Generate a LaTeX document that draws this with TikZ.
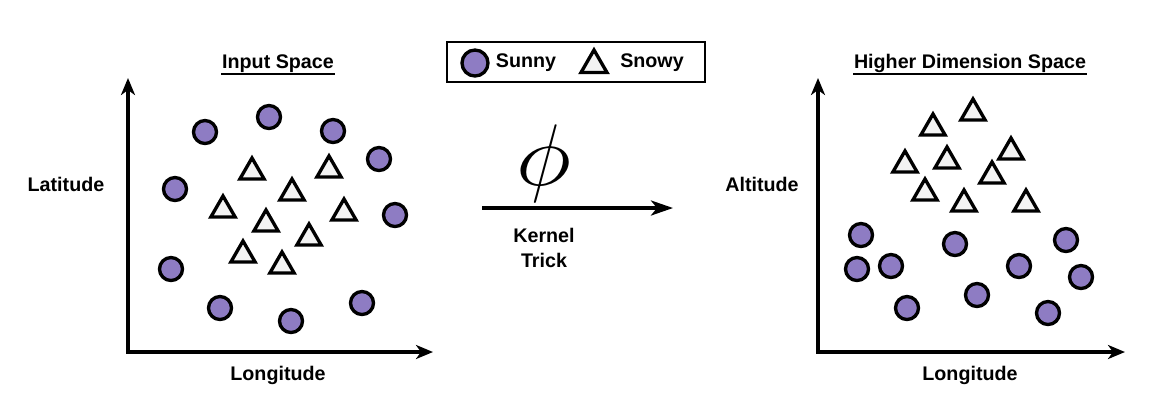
\documentclass[tikz,border=0pt]{standalone}
\usepackage{fontspec}
\setmainfont{Liberation Sans}
\usetikzlibrary{shapes.geometric,arrows.meta}
\definecolor{purp}{HTML}{8E7CC3}
\definecolor{trifill}{HTML}{F3F3F3}
\begin{document}
\begin{tikzpicture}[x=0.01cm,y=-0.01cm,
  sunny/.style={circle,draw,line width=0.95pt,fill=purp,minimum size=0.23cm,inner sep=0pt},
  snowy/.style={regular polygon,regular polygon sides=3,draw,line width=0.95pt,fill=trifill,minimum size=0.28cm,inner sep=0pt},
  lbl/.style={font=\fontsize{5.6}{7.1}\selectfont\bfseries,inner sep=0pt,align=center},
  title/.style={lbl,anchor=base},
  uline/.style={line width=0.55pt},
  axis/.style={line width=1pt,{Stealth[length=0.17cm,width=0.14cm,inset=0.05cm]}-{Stealth[length=0.17cm,width=0.14cm,inset=0.05cm]}},
  maparrow/.style={line width=1pt,-{Stealth[length=0.22cm,width=0.15cm,inset=0.06cm]}}]
\useasboundingbox (0,0) rectangle (1163,402);

% ---------- left panel ----------
\coordinate (ly) at (128,78);
\coordinate (lo) at (128,352);
\coordinate (lx) at (433,352);
\draw[axis] (ly) -- (lo) -- (lx);
\node[title] (ltitle) at (278,68) {Input Space};
\draw[uline] ([yshift=-0.3pt]ltitle.south west) -- ([yshift=-0.3pt]ltitle.south east);
\node[lbl] (llat) at (66,184) {Latitude};
\node[lbl] (llon) at (278,375) {Longitude};

\node[sunny] (ls1) at (205,132) {};
\node[sunny] (ls2) at (269,117) {};
\node[sunny] (ls3) at (333,131) {};
\node[sunny] (ls4) at (379,159) {};
\node[sunny] (ls5) at (175,189) {};
\node[sunny] (ls6) at (395,215) {};
\node[sunny] (ls7) at (171,269) {};
\node[sunny] (ls8) at (220,308) {};
\node[sunny] (ls9) at (291,321) {};
\node[sunny] (ls10) at (362,303) {};

\node[snowy] (lt1) at (252,172) {};
\node[snowy] (lt2) at (329,170) {};
\node[snowy] (lt3) at (292,193) {};
\node[snowy] (lt4) at (223,210) {};
\node[snowy] (lt5) at (344,213) {};
\node[snowy] (lt6) at (266,224) {};
\node[snowy] (lt7) at (309,238) {};
\node[snowy] (lt8) at (243,255) {};
\node[snowy] (lt9) at (282,266) {};

% ---------- legend ----------
\node[draw,line width=0.7pt,minimum width=2.58cm,minimum height=0.4cm,inner sep=0pt] (legend) at (576,62) {};
\node[sunny,minimum size=0.26cm] (legs) at (475,63) {};
\node[lbl] (legsl) at (526,63) {Sunny};
\node[snowy,minimum size=0.3cm] (legt) at (594,65) {};
\node[lbl] (legtl) at (652,63) {Snowy};

% ---------- mapping ----------
\coordinate (ma) at (482,208);
\coordinate (mb) at (673,208);
\draw[maparrow] (ma) -- (mb);
\node[inner sep=0pt,font=\fontsize{25}{30}\selectfont] (phi) at (544,164) {\scalebox{1.08}[1]{$\phi$}};
\node[lbl] (kt) at (544,248) {Kernel\\Trick};

% ---------- right panel ----------
\coordinate (ry) at (818,78);
\coordinate (ro) at (818,352);
\coordinate (rx) at (1125,352);
\draw[axis] (ry) -- (ro) -- (rx);
\node[title] (rtitle) at (970,68) {Higher Dimension Space};
\draw[uline] ([yshift=-0.3pt]rtitle.south west) -- ([yshift=-0.3pt]rtitle.south east);
\node[lbl] (ralt) at (762,184) {Altitude};
\node[lbl] (rlon) at (970,375) {Longitude};

\node[snowy] (rt1) at (973,113) {};
\node[snowy] (rt2) at (933,128) {};
\node[snowy] (rt3) at (1011,152) {};
\node[snowy] (rt4) at (905,165) {};
\node[snowy] (rt5) at (947,161) {};
\node[snowy] (rt6) at (992,176) {};
\node[snowy] (rt7) at (925,193) {};
\node[snowy] (rt8) at (964,204) {};
\node[snowy] (rt9) at (1026,204) {};

\node[sunny] (rs1) at (861,235) {};
\node[sunny] (rs2) at (857,269) {};
\node[sunny] (rs3) at (891,266) {};
\node[sunny] (rs4) at (955,244) {};
\node[sunny] (rs5) at (1066,240) {};
\node[sunny] (rs6) at (1019,266) {};
\node[sunny] (rs7) at (1081,277) {};
\node[sunny] (rs8) at (977,295) {};
\node[sunny] (rs9) at (907,308) {};
\node[sunny] (rs10) at (1048,313) {};
\end{tikzpicture}
\end{document}
